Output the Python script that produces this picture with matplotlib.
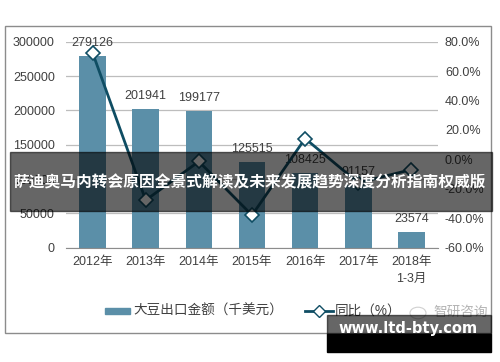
import matplotlib
matplotlib.use('Agg')  # no display
import matplotlib.pyplot as plt
from matplotlib.patches import Rectangle, Circle
from matplotlib.lines import Line2D
import numpy as np

plt.rcParams['font.family'] = ['Liberation Sans', 'Noto Sans CJK SC']

# Data
years = ['2012年', '2013年', '2014年', '2015年', '2016年', '2017年', '2018年\n1-3月']
export_value = [279126, 201941, 199177, 125515, 108425, 91157, 23574]
yoy_pct = [72.5, -27.7, -1.4, -37.9, 14.2, -15.9, -6.9]
left_ticks = [0, 50000, 100000, 150000, 200000, 250000, 300000]
right_ticks = [-60, -40, -20, 0, 20, 40, 60, 80]

bar_label = '大豆出口金额（千美元）'
line_label = '同比（%）'
banner_title = '萨迪奥马内转会原因全景式解读及未来发展趋势深度分析指南权威版'
site_text = 'www.ltd-bty.com'
logo_text = '智研咨询'

W, H = 500, 362
bar_color = '#5b8fa8'
line_color = '#0f4d63'
text_color = '#404040'


def fx(px):
    return px / W


def fy(py):
    return 1 - py / H


fig = plt.figure(figsize=(W / 100, H / 100), dpi=100)
ax = fig.add_axes([fx(66), fy(247.7), 372 / W, 206 / H])

x = np.arange(len(years))
ax.bar(x, export_value, width=0.5, color=bar_color, zorder=2)
for xi, v in zip(x, export_value):
    ax.annotate(f'{v}', (xi, v), xytext=(0, 5), textcoords='offset points',
                ha='center', va='bottom', fontsize=9, color=text_color, zorder=3)

ax.set_xlim(-0.5, len(years) - 0.5)
ax.set_ylim(0, 300000)
ax.set_yticks(left_ticks)
ax.set_yticklabels([str(t) for t in left_ticks])
ax.set_xticks(x)
ax.set_xticklabels(years, linespacing=1.5)
ax.yaxis.grid(True, color='#bdbdbd', linewidth=0.9)
ax.set_axisbelow(True)
for side in ['top', 'left', 'right']:
    ax.spines[side].set_visible(False)
ax.spines['bottom'].set_color('#8c8c8c')
ax.tick_params(axis='y', length=0, pad=8, labelsize=9, labelcolor=text_color)
ax.tick_params(axis='x', length=0, pad=6, labelsize=9, labelcolor=text_color)

# YoY line on the right axis
ax2 = ax.twinx()
ax2.plot(x, yoy_pct, color=line_color, linewidth=2, marker='D', markersize=7,
         markerfacecolor='white', markeredgecolor=line_color, markeredgewidth=1.2, zorder=4)
ax2.set_ylim(-60, 80)
ax2.set_yticks(right_ticks)
ax2.set_yticklabels([f'{t:.1f}%' for t in right_ticks])
ax2.tick_params(axis='y', length=0, pad=5, labelsize=9, labelcolor=text_color)
for side in ['top', 'left', 'right', 'bottom']:
    ax2.spines[side].set_visible(False)

# Chart frame
fig.add_artist(Rectangle((fx(5), fy(333)), 486 / W, 307 / H, fill=False,
                         edgecolor='#8c8c8c', linewidth=1, transform=fig.transFigure))

# Legend, drawn by hand
ly = fy(311)
fig.add_artist(Rectangle((fx(105), ly - 3 / H), 25 / W, 6 / H, color=bar_color,
                         transform=fig.transFigure))
fig.text(fx(133), ly, bar_label, fontsize=9.8, color=text_color, va='center', ha='left')
fig.add_artist(Line2D([fx(305), fx(319), fx(333)], [ly, ly, ly], color=line_color, linewidth=2,
                      marker='D', markersize=6, markevery=[1], markerfacecolor='white',
                      markeredgecolor=line_color, transform=fig.transFigure))
fig.text(fx(335), ly, line_label, fontsize=9.8, color=text_color, va='center', ha='left')

# faint logo watermark
fig.add_artist(Circle((fx(418), fy(313)), 8 / W, fill=False, edgecolor='#d0d0d0',
                      linewidth=0.8, transform=fig.transFigure))
fig.text(fx(461), fy(312), logo_text, fontsize=9.8, color='#b4b4b4', va='center', ha='center')

# Overlay banner
fig.add_artist(Rectangle((fx(10), fy(211)), 482 / W, 59 / H, color='black', alpha=0.6,
                         transform=fig.transFigure, zorder=10))
fig.text(fx(250), fy(182), banner_title, color='white', fontsize=11.3, fontweight='bold',
         family=['Noto Sans CJK SC'], ha='center', va='center', zorder=11)

# Site watermark box
fig.add_artist(Rectangle((fx(327), fy(334)), 164 / W, 19 / H, color='black', alpha=0.6,
                         transform=fig.transFigure, zorder=10))
fig.add_artist(Rectangle((fx(327), fy(352)), 164 / W, 18 / H, color='black',
                         transform=fig.transFigure, zorder=10))
fig.text(fx(408), fy(329), site_text, color='white', fontsize=10.5, fontweight='bold',
         family=['DejaVu Sans'], ha='center', va='center', zorder=11)

fig.savefig('out.png', dpi=100)
